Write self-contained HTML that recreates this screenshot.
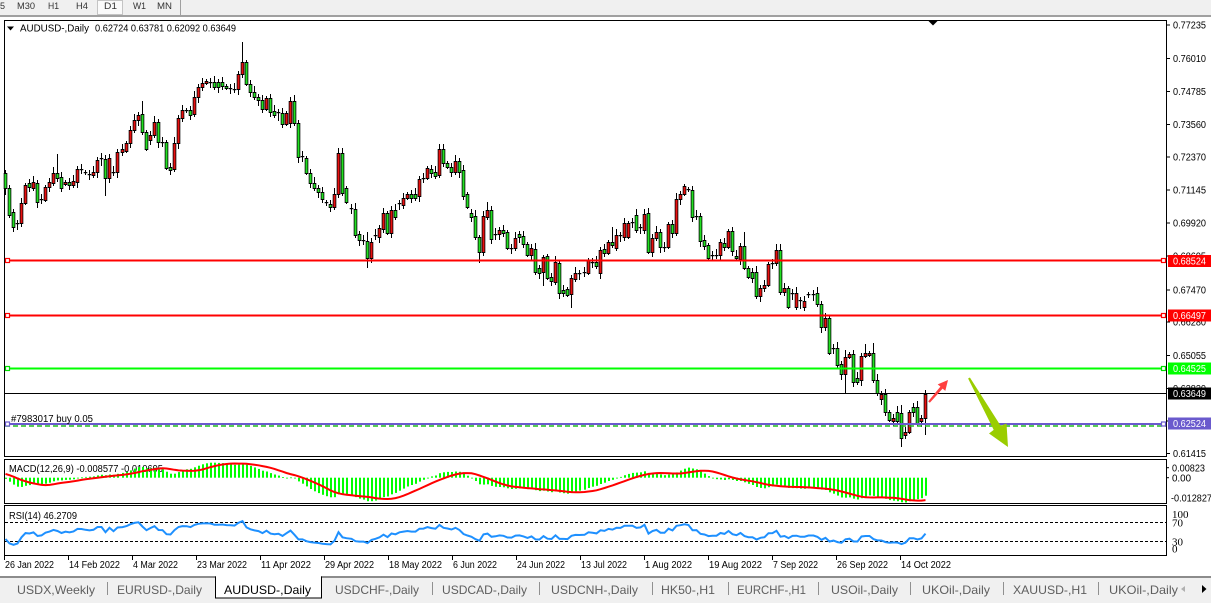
<!DOCTYPE html>
<html><head><meta charset="utf-8"><title>AUDUSD-,Daily</title>
<style>
html,body{margin:0;padding:0;background:#fff;width:1211px;height:603px;overflow:hidden}
svg{display:block;font-family:"Liberation Sans",Arial,sans-serif}
</style></head><body>
<svg width="1211" height="603" viewBox="0 0 1211 603" xmlns="http://www.w3.org/2000/svg">
<rect width="1211" height="603" fill="#fff"/>
<!-- toolbar -->
<rect x="0" y="0" width="1211" height="15" fill="#f0f0f0"/>
<rect x="0" y="15" width="1211" height="2" fill="#a0a0a0"/>
<rect x="97.5" y="0.5" width="25" height="14" fill="#fafafa" stroke="#c4c4c4"/>
<line x1="180.5" y1="0" x2="180.5" y2="15" stroke="#a0a0a0"/>
<g font-size="9" fill="#333">
<text x="0" y="9">5</text>
<text x="17" y="9" textLength="18" lengthAdjust="spacingAndGlyphs">M30</text>
<text x="48" y="9" textLength="11" lengthAdjust="spacingAndGlyphs">H1</text>
<text x="76" y="9" textLength="12" lengthAdjust="spacingAndGlyphs">H4</text>
<text x="104" y="9" textLength="13" lengthAdjust="spacingAndGlyphs">D1</text>
<text x="133" y="9" textLength="13" lengthAdjust="spacingAndGlyphs">W1</text>
<text x="157" y="9" textLength="15" lengthAdjust="spacingAndGlyphs">MN</text>
</g>

<!-- frames -->
<rect x="4.5" y="20.5" width="1162" height="436" fill="none" stroke="#000"/>
<rect x="4.5" y="459.5" width="1162" height="44" fill="none" stroke="#000"/>
<rect x="4.5" y="505.5" width="1162" height="50" fill="none" stroke="#000"/>
<polygon points="928,20.5 938,20.5 933,25.5" fill="#000"/>

<!-- candles -->
<g id="cd"></g>

<!-- horizontal lines -->
<rect x="5" y="259.5" width="1161" height="2" fill="#ff0000"/>
<rect x="5" y="314.5" width="1161" height="2" fill="#ff0000"/>
<rect x="5" y="367.5" width="1161" height="2" fill="#00ff00"/>
<rect x="5" y="393" width="1161" height="1" fill="#000"/>
<line x1="5" y1="426" x2="1166" y2="426" stroke="#22bb22" stroke-width="1.5" stroke-dasharray="5,3"/>
<rect x="5" y="423" width="1161" height="2" fill="#6a5acd"/>
<g fill="#fff" stroke-width="1.2">
<rect x="5.5" y="258.5" width="4" height="4" stroke="#ff0000"/>
<rect x="1161.5" y="258.5" width="4" height="4" stroke="#ff0000"/>
<rect x="5.5" y="313.5" width="4" height="4" stroke="#ff0000"/>
<rect x="1161.5" y="313.5" width="4" height="4" stroke="#ff0000"/>
<rect x="5.5" y="366.5" width="4" height="4" stroke="#00dd00"/>
<rect x="1161.5" y="366.5" width="4" height="4" stroke="#00dd00"/>
<rect x="5.5" y="422" width="4" height="4" stroke="#6a5acd"/>
<rect x="1161.5" y="422" width="4" height="4" stroke="#6a5acd"/>
</g>
<text x="11" y="422" font-size="10" textLength="82" lengthAdjust="spacingAndGlyphs">#7983017 buy 0.05</text>

<!-- arrows -->
<polygon points="929.8,402.7 942.6,388.6 945.3,390.9 948,380 937.7,384.4 940.4,386.6 928.2,401.4" fill="#ff4040"/>
<polygon points="969.9,377.5 1000.7,425.9 1006.5,423.5 1008,447 989,433.5 993.7,429.9 968.1,378.5" fill="#9acd00"/>

<!-- title -->
<polygon points="7,26.5 14,26.5 10.5,30.5" fill="#000"/>
<text x="20" y="31.5" font-size="10" textLength="69" lengthAdjust="spacingAndGlyphs">AUDUSD-,Daily</text>
<text x="95" y="31.5" font-size="10" textLength="141" lengthAdjust="spacingAndGlyphs">0.62724 0.63781 0.62092 0.63649</text>

<!-- price axis -->
<g id="ax" font-size="10"></g>
<g font-size="10">
<rect x="1168" y="255" width="43" height="12" fill="#ff0000"/>
<text x="1173" y="264.5" fill="#fff" textLength="33" lengthAdjust="spacingAndGlyphs">0.68524</text>
<rect x="1168" y="309.5" width="43" height="12" fill="#ff0000"/>
<text x="1173" y="319" fill="#fff" textLength="33" lengthAdjust="spacingAndGlyphs">0.66497</text>
<rect x="1168" y="362.5" width="43" height="12" fill="#00ff00"/>
<text x="1173" y="372" fill="#fff" textLength="33" lengthAdjust="spacingAndGlyphs">0.64525</text>
<rect x="1168" y="387.5" width="43" height="12" fill="#000"/>
<text x="1173" y="397" fill="#fff" textLength="33" lengthAdjust="spacingAndGlyphs">0.63649</text>
<rect x="1168" y="417.5" width="43" height="12" fill="#6a5acd"/>
<text x="1173" y="427" fill="#fff" textLength="33" lengthAdjust="spacingAndGlyphs">0.62524</text>
</g>

<!-- MACD panel -->
<text x="9" y="472" font-size="10" textLength="154" lengthAdjust="spacingAndGlyphs">MACD(12,26,9) -0.008577 -0.010695</text>
<g id="mc"></g>
<g font-size="10">
<line x1="1166" y1="467.7" x2="1169" y2="467.7" stroke="#000"/>
<line x1="1166" y1="477.7" x2="1169" y2="477.7" stroke="#000"/>
<text x="1172" y="471.5" textLength="33" lengthAdjust="spacingAndGlyphs">0.00823</text>
<text x="1172" y="481.5" textLength="19" lengthAdjust="spacingAndGlyphs">0.00</text>
<text x="1171" y="501.5" textLength="41" lengthAdjust="spacingAndGlyphs">-0.012827</text>
</g>

<!-- RSI panel -->
<line x1="5" y1="522.5" x2="1166" y2="522.5" stroke="#000" stroke-dasharray="3,2"/>
<line x1="5" y1="541.5" x2="1166" y2="541.5" stroke="#000" stroke-dasharray="3,2"/>
<text x="9" y="519" font-size="10" textLength="68" lengthAdjust="spacingAndGlyphs">RSI(14) 46.2709</text>
<g id="rs"></g>
<g font-family="'Liberation Serif',serif" font-size="11">
<text x="1172" y="518">100</text>
<text x="1172" y="526.5">70</text>
<text x="1172" y="545.5">30</text>
<text x="1172" y="552.5">0</text>
</g>

<!-- date axis -->
<g id="dt" font-size="10"></g>

<!-- tabs -->
<rect x="0" y="576" width="1211" height="27" fill="#f0f0f0"/>
<rect x="0" y="576" width="1211" height="2" fill="#8c8c8c"/>
<rect x="215.5" y="577" width="106" height="21" fill="#fff" stroke="#000"/>
<rect x="216" y="576" width="105" height="2" fill="#fff"/>
<g stroke="#909090">
<line x1="107.5" y1="582" x2="107.5" y2="595"/>
<line x1="432.5" y1="582" x2="432.5" y2="595"/>
<line x1="539.5" y1="582" x2="539.5" y2="595"/>
<line x1="652.5" y1="582" x2="652.5" y2="595"/>
<line x1="728.5" y1="582" x2="728.5" y2="595"/>
<line x1="818.5" y1="582" x2="818.5" y2="595"/>
<line x1="910.5" y1="582" x2="910.5" y2="595"/>
<line x1="1003.5" y1="582" x2="1003.5" y2="595"/>
<line x1="1098.5" y1="582" x2="1098.5" y2="595"/>
</g>
<g font-size="12" fill="#5e5e5e">
<text x="17" y="594" textLength="78" lengthAdjust="spacingAndGlyphs">USDX,Weekly</text>
<text x="117" y="594" textLength="85" lengthAdjust="spacingAndGlyphs">EURUSD-,Daily</text>
<text x="224" y="594" textLength="87" lengthAdjust="spacingAndGlyphs" fill="#000">AUDUSD-,Daily</text>
<text x="335" y="594" textLength="84" lengthAdjust="spacingAndGlyphs">USDCHF-,Daily</text>
<text x="442" y="594" textLength="85" lengthAdjust="spacingAndGlyphs">USDCAD-,Daily</text>
<text x="551" y="594" textLength="87" lengthAdjust="spacingAndGlyphs">USDCNH-,Daily</text>
<text x="661" y="594" textLength="54" lengthAdjust="spacingAndGlyphs">HK50-,H1</text>
<text x="737" y="594" textLength="69" lengthAdjust="spacingAndGlyphs">EURCHF-,H1</text>
<text x="831" y="594" textLength="67" lengthAdjust="spacingAndGlyphs">USOil-,Daily</text>
<text x="922" y="594" textLength="68" lengthAdjust="spacingAndGlyphs">UKOil-,Daily</text>
<text x="1013" y="594" textLength="74" lengthAdjust="spacingAndGlyphs">XAUUSD-,H1</text>
<text x="1109" y="594" textLength="69" lengthAdjust="spacingAndGlyphs">UKOil-,Daily</text>
</g>
<polygon points="1185,586 1185,592 1181,589" fill="#b0b0b0"/>
<polygon points="1202,585 1202,593 1206.5,589" fill="#000"/>
</svg>

<script>
(function(){
var D="173 188 g 170 195|188 215 g 185 218|212 227 g 209 232|223 224 d|203 223 r|185 203 r|183 187 g|182 188 r|183 202 g|199 200 d|187 200 r|182 187 r|173 183 r|173 178 g 154 182|177 188 g|182 184 r|182 185 g|181 185 r|169 182 r|169 170 d|172 173 d|174 175 d|172 175 r|160 172 r|158 162 d|159 178 g 155 196|158 178 r|172 173 d|152 172 r|149 152 r|143 151 r|130 143 r|120 130 r|115 120 r|114 132 g 101 135|132 149 g|135 140 r|122 135 r|122 142 g|142 143 d|142 168 g|167 170 g|143 169 r|118 143 r|110 118 r|110 111 d|110 115 g|97 114 r|87 97 r|83 87 r|81 83 r|82 83 d|82 87 g|82 87 g|82 86 g|86 88 g|88 89 d|89 90 d|74 89 r|62 74 r 42 78|62 84 g|84 92 g|92 97 g|97 100 g|100 109 g|98 109 r|98 112 g|111 115 g|112 115 d|113 124 g|113 124 r|101 123 r|101 123 g|123 157 g|156 158 d|158 173 g|173 183 g|183 188 g|188 192 g|192 199 g|202 204 d|204 207 g|194 207 r|153 194 r 148 198|153 193 g 148 196|188 202 g|208 209 d|209 235 g|234 240 g|240 241 d|241 258 g 232 268|242 258 r|235 237 d|228 237 r|213 229 r|213 233 g|210 233 r|210 217 g|203 204 d|198 205 r|194 198 r|194 198 g|194 198 g|179 196 r|178 179 d|168 178 r|169 173 g|172 176 g|149 175 r 144 178|149 163 g|163 167 g|167 172 g|161 172 r|161 172 g|170 196 g|194 207 g|213 217 g|216 237 g|237 252 g 235 263|216 252 r|210 217 r 202 220|210 239 g|234 237 d|230 234 r|230 233 g|232 248 g|248 249 d|238 248 r|234 237 g|236 244 g|244 255 g|248 255 r|249 272 g|268 273 g|257 272 r 255 286|256 278 g|277 281 g|262 282 r|263 293 g|290 293 g|289 295 g|278 294 r 275 308|273 279 r|273 274 d|272 273 d|260 273 r|262 263 d|262 266 g|250 273 r|249 253 g|242 253 r|242 245 g 227 248|235 248 r|235 236 d|223 237 r|223 237 r|222 223 d|215 230 g|227 228 d|214 230 r|213 252 g 208 254|238 252 r|232 238 r|232 247 g|247 248 d|224 247 r|224 233 g|199 233 r|194 199 r|186 194 r 184 196|189 190 d|190 217 g|216 217 d|216 241 g|240 246 g|245 258 g|255 256 d|255 256 d|242 255 r|243 247 g|231 247 r|231 251 g|256 258 g|246 259 r|246 268 g 232 270|268 277 g|272 278 g|272 296 g|288 296 r|285 288 r|264 285 r|263 264 d|250 263 r|250 292 g 244 295|288 292 r|288 307 g|293 295 d|293 307 r|300 303 d|301 307 r|294 296 d|294 296 d|293 304 g|304 327 g|318 327 r|318 353 g|348 349 d|348 365 g|364 374 g|357 374 r 350 394|354 357 r|354 382 g|378 382 g|356 380 r|353 356 r 344 358|353 355 r|353 380 g 343 383|380 393 g|394 399 r|394 412 g|412 420 g|418 421 r|412 421 g|413 438 g 405 447|432 435 r|412 432 r|407 412 g|407 423 g|418 421 r|394 418 r 390 435";
var bars=D.split('|').map(function(s){var a=s.trim().split(/\s+/);return {t:+a[0],b:+a[1],c:a[2],h:a.length>3?+a[3]:null,l:a.length>4?+a[4]:null};});
var N=bars.length, step=920/(N-1);
var xs=[];
var o='';
for(var i=0;i<N;i++){
  var B=bars[i];
  var cx=Math.round(5+i*step)+0.5; xs.push(cx);
  var h=B.h!=null?B.h:B.t-(2+(i*7)%5);
  var l=B.l!=null?B.l:B.b+(2+(i*3)%5);
  o+='<rect x="'+(cx-0.5)+'" y="'+h+'" width="1" height="'+(l-h)+'" fill="#000"/>';
  if(B.c==='d'||B.b-B.t<2){
    o+='<rect x="'+(cx-1.8)+'" y="'+B.t+'" width="3.6" height="1.2" fill="#000"/>';
  }else{
    o+='<rect x="'+(cx-1.8)+'" y="'+B.t+'" width="3.6" height="'+(B.b-B.t+1)+'" fill="#000"/>';
    o+='<rect x="'+(cx-1)+'" y="'+(B.t+1)+'" width="2" height="'+(B.b-B.t-1)+'" fill="'+(B.c==='r'?'#e81010':'#22e022')+'"/>';
  }
}
document.getElementById('cd').innerHTML=o;

// price axis
var ax=[["0.77235",25],["0.76010",58.5],["0.74785",91.5],["0.73560",124.5],["0.72370",157],["0.71145",190],["0.69920",223],["0.68695",256],["0.67470",290],["0.66280",322],["0.65055",355.5],["0.63830",388.5],["0.62605",421],["0.61415",453.5]];
o='';
ax.forEach(function(a){o+='<line x1="1166" y1="'+a[1]+'" x2="1170" y2="'+a[1]+'" stroke="#000"/><text x="1173" y="'+(a[1]+3.5)+'" textLength="33" lengthAdjust="spacingAndGlyphs">'+a[0]+'</text>';});
document.getElementById('ax').innerHTML=o;

// dates
var dt=[["26 Jan 2022",49],["14 Feb 2022",51],["4 Mar 2022",45],["23 Mar 2022",50],["11 Apr 2022",50],["29 Apr 2022",49],["18 May 2022",53],["6 Jun 2022",44],["24 Jun 2022",48],["13 Jul 2022",46],["1 Aug 2022",47],["19 Aug 2022",53],["7 Sep 2022",45],["26 Sep 2022",51],["14 Oct 2022",50]];
o='';
dt.forEach(function(d,k){var x=4+64*k;o+='<line x1="'+(x+0.5)+'" y1="556" x2="'+(x+0.5)+'" y2="560" stroke="#000"/><text x="'+(x+1)+'" y="568" textLength="'+d[1]+'" lengthAdjust="spacingAndGlyphs">'+d[0]+'</text>';});
document.getElementById('dt').innerHTML=o;

// indicators
function P(y){return 0.77235-(y-25)/2710;}
var closes=bars.map(function(B){return P(B.c==='r'?B.t:(B.c==='g'?B.b:(B.t+B.b)/2));});
var kp=[[-60,0.735],[-45,0.700],[-30,0.712],[-20,0.727],[-15,0.718],[-10,0.731],[-1,0.716]];
var warm=[];
for(var j=-60;j<0;j++){
  var v=kp[kp.length-1][1];
  for(var q=0;q<kp.length-1;q++){if(j>=kp[q][0]&&j<=kp[q+1][0]){var f=(j-kp[q][0])/(kp[q+1][0]-kp[q][0]);v=kp[q][1]+f*(kp[q+1][1]-kp[q][1]);break;}}
  v+=Math.sin(j*1.7)*0.0015;
  warm.push(v);
}
var all=warm.concat(closes), M=all.length, W=warm.length;
var e12=[all[0]],e26=[all[0]],mac=[0];
for(var k=1;k<M;k++){e12[k]=e12[k-1]+(2/13)*(all[k]-e12[k-1]);e26[k]=e26[k-1]+(2/27)*(all[k]-e26[k-1]);mac[k]=e12[k]-e26[k];}
mac[0]=0;
var sig=[];
for(k=0;k<M;k++){var s=0,c=0;for(var z=Math.max(0,k-8);z<=k;z++){s+=mac[z];c++;}sig[k]=s/c;}
// RSI
var rsi=[],ag=0,al=0;
for(k=1;k<=14;k++){var d=all[k]-all[k-1];if(d>0)ag+=d;else al-=d;}
ag/=14;al/=14;
for(k=0;k<M;k++){
  if(k>14){var d2=all[k]-all[k-1];var g=d2>0?d2:0,ls=d2<0?-d2:0;ag=(ag*13+g)/14;al=(al*13+ls)/14;}
  rsi[k]=al===0?100:100-100/(1+ag/al);
}
var mx=-1,mn=1;
for(k=W;k<M;k++){mx=Math.max(mx,mac[k],sig[k]);mn=Math.min(mn,mac[k],sig[k]);}
var zy=477.7;
var kk=Math.min((zy-461)/mx,(502.5-zy)/(-mn));
o='';
var sp='';
for(i=0;i<N;i++){
  var mv=mac[W+i],yv=zy-mv*kk;
  var y0=Math.min(yv,zy),y1=Math.max(yv,zy);
  o+='<rect x="'+(xs[i]-0.5)+'" y="'+y0.toFixed(1)+'" width="2" height="'+Math.max(0.8,(y1-y0)).toFixed(1)+'" fill="#00ff00"/>';
  sp+=xs[i]+','+(zy-sig[W+i]*kk).toFixed(1)+' ';
}
o+='<polyline points="'+sp+'" fill="none" stroke="#ff0000" stroke-width="2"/>';
document.getElementById('mc').innerHTML=o;
var rp='';
for(i=0;i<N;i++){rp+=xs[i]+','+(556-rsi[W+i]*0.485).toFixed(1)+' ';}
document.getElementById('rs').innerHTML='<polyline points="'+rp+'" fill="none" stroke="#1e90ff" stroke-width="2"/>';
})();
</script>
</body></html>
